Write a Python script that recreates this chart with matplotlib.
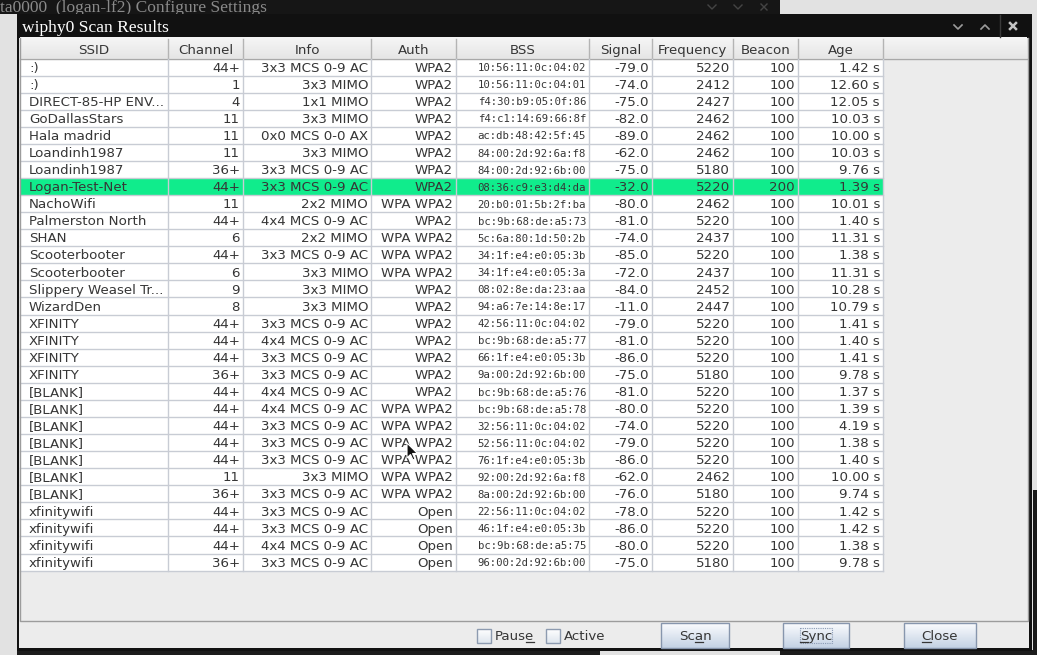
import numpy as np
import matplotlib
matplotlib.use("Agg")
import matplotlib.pyplot as plt
from matplotlib.patches import Rectangle, Polygon
from matplotlib.font_manager import FontProperties
from matplotlib.colors import to_rgb

# table content
columns = ["SSID", "Channel", "Info", "Auth", "BSS", "Signal", "Frequency", "Beacon", "Age"]
ssid = [":)", ":)", "DIRECT-85-HP ENV...", "GoDallasStars", "Hala madrid", "Loandinh1987",
        "Loandinh1987", "Logan-Test-Net", "NachoWifi", "Palmerston North", "SHAN",
        "Scooterbooter", "Scooterbooter", "Slippery Weasel Tr...", "WizardDen", "XFINITY",
        "XFINITY", "XFINITY", "XFINITY", "[BLANK]", "[BLANK]", "[BLANK]", "[BLANK]",
        "[BLANK]", "[BLANK]", "[BLANK]", "xfinitywifi", "xfinitywifi", "xfinitywifi",
        "xfinitywifi"]
channel = ["44+", "1", "4", "11", "11", "11", "36+", "44+", "11", "44+", "6", "44+", "6",
           "9", "8", "44+", "44+", "44+", "36+", "44+", "44+", "44+", "44+", "44+", "11",
           "36+", "44+", "44+", "44+", "36+"]
info = ["3x3 MCS 0-9 AC", "3x3 MIMO", "1x1 MIMO", "3x3 MIMO", "0x0 MCS 0-0 AX", "3x3 MIMO",
        "3x3 MCS 0-9 AC", "3x3 MCS 0-9 AC", "2x2 MIMO", "4x4 MCS 0-9 AC", "2x2 MIMO",
        "3x3 MCS 0-9 AC", "3x3 MIMO", "3x3 MIMO", "3x3 MIMO", "3x3 MCS 0-9 AC",
        "4x4 MCS 0-9 AC", "3x3 MCS 0-9 AC", "3x3 MCS 0-9 AC", "4x4 MCS 0-9 AC",
        "4x4 MCS 0-9 AC", "3x3 MCS 0-9 AC", "3x3 MCS 0-9 AC", "3x3 MCS 0-9 AC", "3x3 MIMO",
        "3x3 MCS 0-9 AC", "3x3 MCS 0-9 AC", "3x3 MCS 0-9 AC", "4x4 MCS 0-9 AC",
        "3x3 MCS 0-9 AC"]
auth = ["WPA2", "WPA2", "WPA2", "WPA2", "WPA2", "WPA2", "WPA2", "WPA2", "WPA WPA2", "WPA2",
        "WPA WPA2", "WPA WPA2", "WPA WPA2", "WPA2", "WPA2", "WPA2", "WPA2", "WPA2", "WPA2",
        "WPA2", "WPA WPA2", "WPA WPA2", "WPA WPA2", "WPA WPA2", "WPA WPA2", "WPA WPA2",
        "Open", "Open", "Open", "Open"]
bss = ["10:56:11:0c:04:02", "10:56:11:0c:04:01", "f4:30:b9:05:0f:86", "f4:c1:14:69:66:8f",
       "ac:db:48:42:5f:45", "84:00:2d:92:6a:f8", "84:00:2d:92:6b:00", "08:36:c9:e3:d4:da",
       "20:b0:01:5b:2f:ba", "bc:9b:68:de:a5:73", "5c:6a:80:1d:50:2b", "34:1f:e4:e0:05:3b",
       "34:1f:e4:e0:05:3a", "08:02:8e:da:23:aa", "94:a6:7e:14:8e:17", "42:56:11:0c:04:02",
       "bc:9b:68:de:a5:77", "66:1f:e4:e0:05:3b", "9a:00:2d:92:6b:00", "bc:9b:68:de:a5:76",
       "bc:9b:68:de:a5:78", "32:56:11:0c:04:02", "52:56:11:0c:04:02", "76:1f:e4:e0:05:3b",
       "92:00:2d:92:6a:f8", "8a:00:2d:92:6b:00", "22:56:11:0c:04:02", "46:1f:e4:e0:05:3b",
       "bc:9b:68:de:a5:75", "96:00:2d:92:6b:00"]
signal = [-79, -74, -75, -82, -89, -62, -75, -32, -80, -81, -74, -85, -72, -84, -11, -79,
          -81, -86, -75, -81, -80, -74, -79, -86, -62, -76, -78, -86, -80, -75]
frequency = [5220, 2412, 2427, 2462, 2462, 2462, 5180, 5220, 2462, 5220, 2437, 5220, 2437,
             2452, 2447, 5220, 5220, 5220, 5180, 5220, 5220, 5220, 5220, 5220, 2462, 5180,
             5220, 5220, 5220, 5180]
beacon = [100, 100, 100, 100, 100, 100, 100, 200, 100, 100, 100, 100, 100, 100, 100, 100,
          100, 100, 100, 100, 100, 100, 100, 100, 100, 100, 100, 100, 100, 100]
age = [1.42, 12.60, 12.05, 10.03, 10.00, 10.03, 9.76, 1.39, 10.01, 1.40, 11.31, 1.38, 11.31,
       10.28, 10.79, 1.41, 1.40, 1.41, 9.78, 1.37, 1.39, 4.19, 1.38, 1.40, 10.00, 9.74, 1.42,
       1.42, 1.38, 9.78]
selected = "08:36:c9:e3:d4:da"

W, H = 1037, 655
fig = plt.figure(figsize=(W / 100, H / 100), dpi=100)
ax = fig.add_axes([0, 0, 1, 1])
ax.axis("off")
renderer = fig.canvas.get_renderer()

SANS = "DejaVu Sans"
MONO = "DejaVu Sans Mono"
SERIF = "Liberation Serif"
FS = 9.6
TXT = "#363636"


def box(x0, y0, x1, y1, fc, ec="none", lw=0, z=1):
    ax.add_patch(Rectangle((x0, y0), x1 - x0, y1 - y0, facecolor=fc, edgecolor=ec,
                           linewidth=lw, zorder=z))


def gradient(x0, y0, x1, y1, top, bot, z=2):
    t = np.linspace(0, 1, 40)[:, None]
    img = (np.array(to_rgb(top)) * (1 - t) + np.array(to_rgb(bot)) * t)[:, None, :]
    ax.imshow(img, extent=(x0, x1, y1, y0), aspect="auto", zorder=z,
              interpolation="bilinear")


def text_w(s, size=FS, family=SANS):
    w, h, d = renderer.get_text_width_height_descent(s, FontProperties(family=family, size=size), False)
    return w


def label(x, y, s, ha="left", size=FS, color=TXT, family=SANS, z=6, under=None):
    ax.text(x, y, s, ha=ha, va="baseline", fontsize=size, color=color, family=family, zorder=z)
    if under is not None:
        full = text_w(s, size, family)
        left = x - full / 2 if ha == "center" else x
        a = left + text_w(s[:under], size, family) if under else left
        b = left + text_w(s[:under + 1], size, family)
        ax.plot([a, b], [y + 2, y + 2], color=color, lw=0.9, zorder=z)


# background: other windows
box(0, 0, W, H, "#e2e2e2", z=0)
box(0, 0, 780, 14, "#161616", z=0.5)
label(0, 12, "ta0000  (logan-lf2) Configure Settings", size=12.5, color="#8a8a8a",
      family=SERIF, z=0.6)
for cx in (712, 738):
    ax.plot([cx - 4, cx, cx + 4], [5, 9, 5], color="#444444", lw=1, zorder=0.6)
ax.plot([761, 767], [4, 10], color="#444444", lw=1, zorder=0.6)
ax.plot([761, 767], [10, 4], color="#444444", lw=1, zorder=0.6)
box(1033, 490, W, H, "#1a1a1a", z=0.5)
box(17, 650, 600, H, "#1c1c1c", z=0.5)
box(780, 650, W, H, "#1c1c1c", z=0.5)

# window frame, title bar and body
box(17, 14, 1032, 651, "#111111", z=1)
box(19, 38, 1029, 648, "#ececec", z=1.5)
label(22, 32.5, "wiphy0 Scan Results", size=12.6, color="white", family=SERIF)
for cx, up in ((958, False), (985, True)):
    ys = [29, 25, 29] if up else [25, 29, 25]
    ax.plot([cx - 4, cx, cx + 4], ys, color="#9c9c9c", lw=1.2, zorder=6)
ax.plot([999.5, 999.5], [15, 37], color="#3a3a3a", lw=1, zorder=6)
ax.plot([1010, 1016], [23, 29], color="#c4c4c4", lw=1.8, zorder=6)
ax.plot([1010, 1016], [29, 23], color="#c4c4c4", lw=1.8, zorder=6)

# table geometry
col_x = [20, 168, 243, 371, 456, 589, 652, 733, 798, 883]
head_top, head_bot = 38, 58.5
row_h = 17.07
table_right = 1027

# header
gradient(20, head_top, table_right, head_bot, "#f6f6f6", "#e6e6e6", z=2)
ax.plot([20, table_right], [head_bot, head_bot], color="#a8a8a8", lw=1, zorder=3)
for xe in col_x[1:]:
    ax.plot([xe, xe], [head_top + 1, head_bot], color="#b4b4b4", lw=1, zorder=3)
for i, name in enumerate(columns):
    label((col_x[i] + col_x[i + 1]) / 2, 54, name, ha="center")

# rows
rows = list(zip(ssid, channel, info, auth, bss,
                ["%.1f" % v for v in signal], [str(v) for v in frequency],
                [str(v) for v in beacon], ["%.2f s" % v for v in age]))
n = len(rows)
table_bot = head_bot + n * row_h
box(20, head_bot, col_x[-1], table_bot, "white", z=2)
for r, cells in enumerate(rows):
    top = head_bot + r * row_h
    if cells[4] == selected:
        box(20, top, col_x[-1], top + row_h, "#10ec8c", z=2.5)
    ax.plot([20, col_x[-1]], [top + row_h, top + row_h], color="#c8ccd4", lw=1, zorder=3)
    base = top + 13.2
    for c, s in enumerate(cells):
        if c == 0:
            label(col_x[0] + 9, base, s)
        elif c == 4:
            label(col_x[c + 1] - 3, base - 0.5, s, ha="right", size=7.7, family=MONO)
        else:
            label(col_x[c + 1] - 3, base, s, ha="right")
for xe in col_x[1:]:
    ax.plot([xe, xe], [head_bot, table_bot], color="#c8ccd4", lw=1, zorder=3)

# scroll pane border
ax.plot([19.5, 19.5, table_right + 0.5, table_right + 0.5], [head_top, 620.5, 620.5, head_top],
        color="#9c9c9c", lw=1, zorder=4)

# mouse pointer
px, py = 407, 443
arrow = np.array([[0, 0], [0, 15], [3.5, 11.5], [6, 17], [8, 16], [5.5, 10.5], [10.5, 10.5]])
ax.add_patch(Polygon(arrow + [px, py], closed=True, facecolor="#111111", edgecolor="white",
                     linewidth=0.8, zorder=7))

# bottom controls
for bx, lbl, ul in ((477, "Pause", 4), (546, "Active", None)):
    gradient(bx, 629, bx + 14, 643, "#ffffff", "#dfe6ee", z=4)
    ax.add_patch(Rectangle((bx, 629), 14, 14, facecolor="none", edgecolor="#8d9bb0",
                           linewidth=1, zorder=5))
    label(bx + 18, 640, lbl, under=ul)

for x0, x1, lbl, ul in ((661, 729, "Scan", 2), (783, 849, "Sync", 0), (904, 976, "Close", 0)):
    gradient(x0, 623, x1, 648, "#fbfcfe", "#c4d2e4", z=4)
    ax.add_patch(Rectangle((x0, 623), x1 - x0, 25, facecolor="none", edgecolor="#8796ad",
                           linewidth=1, zorder=5))
    label((x0 + x1) / 2, 640, lbl, ha="center", under=ul)
ax.add_patch(Rectangle((800, 628), 32, 15, facecolor="none", edgecolor="#8a9ab4",
                       linewidth=0.8, linestyle=(0, (1, 1)), zorder=5))

ax.set_xlim(0, W)
ax.set_ylim(H, 0)
fig.savefig("out.png", dpi=100)
